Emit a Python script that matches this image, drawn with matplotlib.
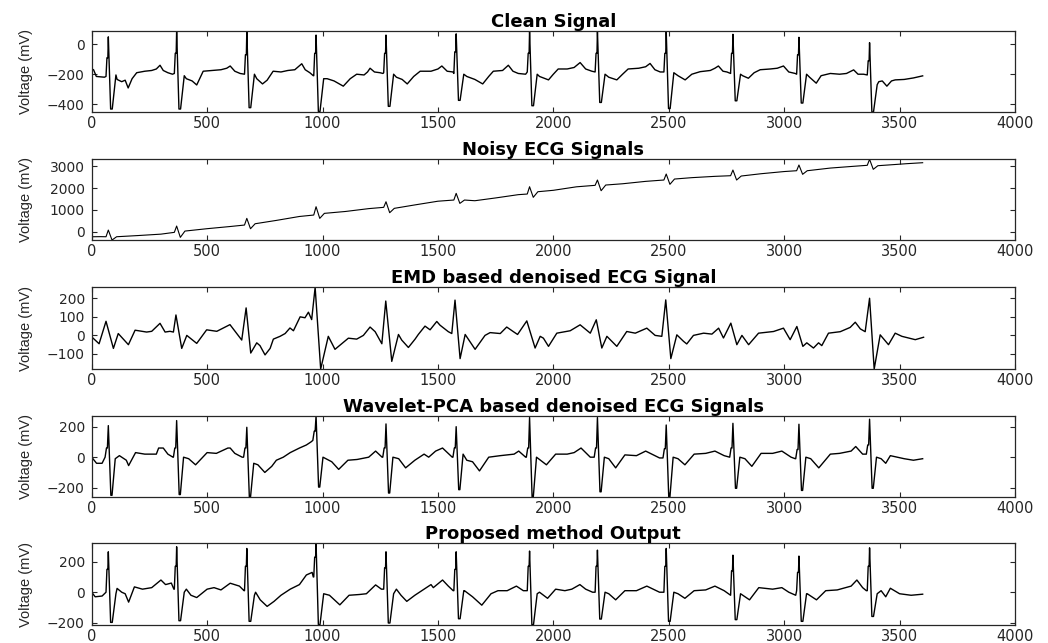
import numpy as np
import matplotlib
matplotlib.use("Agg")
import matplotlib.pyplot as plt

# R-peak sample positions
r_pos = [72, 368, 672, 972, 1275, 1579, 1897, 2191, 2489, 2778, 3064, 3370]

# ---- Clean signal (mV) ----
clean_pre = [-215, -195, -200, -210, -190, -195, -185, -185, -185, -195, -200, -205]
clean_sh = [-90, -60, -70, -60, -60, -50, -60, -60, -60, -60, -70, -110]
clean_peak = [50, 91, 88, 62, 62, 70, 90, 89, 86, 67, 47, 11]
clean_s = [-433, -433, -424, -450, -415, -375, -411, -389, -430, -378, -393, -453]
clean_rec = [-205, -210, -200, -230, -200, -200, -200, -200, -190, -200, -200, -270]
clean_bx = [0, 8, 20, 55,
            110, 130, 145, 158, 175, 195, 230, 260, 280, 296, 310, 330, 350,
            410, 435, 455, 483, 520, 560, 585, 600, 620, 643, 660,
            715, 740, 760, 786, 820, 850, 880, 895, 910, 925, 945, 960,
            1020, 1050, 1090, 1120, 1148, 1180, 1195, 1206, 1225, 1249, 1262,
            1320, 1345, 1367, 1395, 1423, 1470, 1500, 1517, 1540, 1565,
            1625, 1660, 1694, 1720, 1740, 1780, 1805, 1825, 1848, 1880,
            1940, 1979, 2000, 2021, 2060, 2090, 2116, 2140, 2167, 2180,
            2240, 2275, 2300, 2324, 2370, 2400, 2419, 2440, 2463, 2478,
            2540, 2571, 2600, 2636, 2680, 2700, 2715, 2735, 2752, 2768,
            2820, 2845, 2870, 2896, 2940, 2970, 2997, 3020, 3048,
            3110, 3139, 3160, 3200, 3240, 3270, 3301, 3320, 3344, 3358,
            3410, 3425, 3445, 3465, 3481, 3520, 3560, 3600]
clean_by = [-165, -170, -215, -220,
            -235, -250, -240, -292, -230, -190, -180, -175, -165, -140, -175, -190, -200,
            -230, -245, -272, -180, -175, -170, -160, -145, -180, -195, -200,
            -230, -265, -240, -180, -185, -175, -170, -150, -130, -170, -190, -210,
            -230, -245, -280, -230, -200, -205, -185, -160, -185, -190, -195,
            -220, -235, -265, -215, -180, -180, -165, -145, -180, -185,
            -215, -235, -265, -215, -180, -175, -140, -180, -195, -200,
            -215, -238, -200, -165, -165, -155, -122, -165, -180, -185,
            -220, -238, -200, -165, -160, -150, -128, -170, -185, -185,
            -210, -238, -200, -183, -175, -160, -145, -180, -185, -185,
            -210, -227, -190, -170, -165, -160, -145, -185, -195,
            -220, -260, -210, -195, -200, -195, -171, -200, -200, -205,
            -250, -245, -280, -245, -238, -235, -225, -211]

# ---- Noisy ECG (mV) ----
noisy_pre = [-230, -28, 307, 766, 1119, 1454, 1729, 2128, 2372, 2569, 2798, 3046]
noisy_peak = [78, 261, 613, 1147, 1376, 1761, 2064, 2372, 2647, 2830, 3060, 3321]
noisy_s = [-381, -257, 138, 613, 873, 1300, 1578, 1881, 2174, 2372, 2633, 2862]
noisy_post = [-229, 31, 367, 843, 1073, 1454, 1835, 2142, 2417, 2555, 2798, 3028]
noisy_bx = [0, 40, 200, 300, 500, 600, 800, 900, 1100, 1200, 1400, 1500, 1660,
            1750, 1848, 2000, 2100, 2300, 2400, 2600, 2700, 2900, 3000, 3200,
            3300, 3450, 3530, 3600]
noisy_by = [-230, -225, -175, -110, 140, 240, 520, 700, 930, 1060, 1230, 1400, 1422,
            1550, 1700, 1900, 2060, 2200, 2310, 2480, 2540, 2660, 2760, 2920,
            3000, 3060, 3120, 3165]

# ---- EMD based denoised (mV) ----
emd_x = [0, 32, 62, 94, 115, 137, 159, 188, 238, 260, 296, 318, 339, 354, 365, 390,
         412, 455, 498, 542, 599, 650, 669, 689, 715, 729, 751, 773, 787, 816, 838,
         859, 874, 903, 924, 939, 953, 968, 992, 1025, 1054, 1112, 1148, 1177, 1206,
         1228, 1257, 1274, 1300, 1329, 1343, 1372, 1401, 1415, 1444, 1466, 1495, 1509,
         1545, 1560, 1574, 1596, 1618, 1661, 1704, 1726, 1770, 1798, 1827, 1845, 1885,
         1921, 1943, 1957, 1979, 2015, 2073, 2116, 2160, 2186, 2210, 2232, 2275, 2318,
         2355, 2405, 2441, 2470, 2487, 2509, 2535, 2564, 2578, 2607, 2651, 2687, 2716,
         2737, 2769, 2795, 2817, 2846, 2889, 2954, 2997, 3026, 3055, 3081, 3098, 3127,
         3149, 3163, 3192, 3243, 3286, 3308, 3330, 3351, 3370, 3390, 3416, 3452, 3481,
         3510, 3568, 3604]
emd_y = [-8, -45, 76, -70, 10, -20, -50, 28, 18, 22, 65, 18, 22, 18, 110, -70,
         0, -43, 30, 22, 58, -25, 148, -95, -40, -55, -105, -70, -20, -5, 10,
         40, 25, 100, 95, 125, 85, 259, -181, -5, -75, -15, -20, 0, 45,
         20, -45, 185, -140, 5, -25, -65, -20, 5, 50, 30, 75, 55,
         20, 10, 190, -125, 5, -75, 0, 15, 10, 45, 20, 5, 78,
         -68, -5, -15, -59, 12, 25, 57, 12, 84, -68, -5, -59, 21,
         12, 39, 0, -5, 191, -125, 3, -32, -46, 0, 12, 7, 39,
         -14, 66, -50, 0, -50, 12, 21, 39, -23, 48, -59, -40, -68,
         -40, -55, 12, 20, 43, 71, 35, 20, 200, -181, 3, -50, 12,
         -5, -23, -10]

# ---- Wavelet-PCA denoised (mV) ----
wav_pre = [0, 0, 0, 110, 0, 0, 0, 0, -5, 0, -10, 20]
wav_sh = [60, 60, 60, 170, 60, 60, 60, 60, 55, 60, 50, 80]
wav_peak = [207, 240, 196, 272, 218, 200, 260, 260, 211, 222, 216, 249]
wav_s = [-250, -245, -263, -196, -235, -213, -263, -227, -262, -204, -218, -204]
wav_rec = [-10, 0, -40, 0, 0, 20, 0, 0, 0, 0, 0, 0]
wav_bx = [0, 21, 45,
          120, 150, 160, 190, 230, 280, 290, 310, 330, 352,
          420, 450, 500, 540, 590, 600, 620, 652,
          720, 750, 780, 800, 830, 860, 900, 930, 950, 958,
          1040, 1070, 1110, 1150, 1200, 1230, 1258,
          1330, 1360, 1400, 1440, 1460, 1490, 1520, 1562,
          1625, 1650, 1680, 1720, 1770, 1830, 1850, 1880,
          1970, 2010, 2060, 2090, 2120, 2160,
          2240, 2270, 2310, 2360, 2400, 2460,
          2540, 2570, 2610, 2660, 2700, 2740,
          2830, 2860, 2900, 2950, 2990, 3030, 3048,
          3115, 3150, 3200, 3240, 3290, 3310, 3340, 3354,
          3420, 3440, 3460, 3490, 3520, 3560, 3600]
wav_by = [0, -40, -40,
          10, -20, -55, 30, 20, 20, 60, 60, 20, 0,
          -10, -50, 30, 25, 60, 60, 25, 0,
          -50, -100, -60, -20, 0, 30, 60, 80, 100, 110,
          -30, -80, -20, -15, 0, 40, 0,
          -10, -70, -20, 20, 0, 40, 60, 0,
          -20, -30, -90, 0, 10, 20, 40, 0,
          -50, 20, 20, 30, 60, 0,
          -10, -70, 15, 10, 40, -5,
          -10, -50, 20, 25, 40, 10,
          -10, -60, 25, 25, 40, 0, -10,
          -10, -70, 20, 25, 40, 70, 20, 20,
          -10, -40, 10, 0, -10, -20, -10]

# ---- Proposed method (mV) ----
prop_pre = [0, 20, 10, 100, 20, 10, 10, 0, 0, -20, 10, 10]
prop_sh = [150, 170, 170, 230, 160, 150, 170, 170, 170, 140, 130, 170]
prop_peak = [265, 298, 287, 321, 265, 265, 270, 276, 287, 243, 237, 291]
prop_s = [-198, -187, -191, -213, -202, -174, -213, -176, -191, -180, -191, -159]
prop_rec = [-10, 0, -20, -10, -10, 10, -10, 0, 0, -10, -10, -10]
prop_bx = [0, 15, 45,
           110, 130, 145, 160, 185, 220, 260, 300, 320, 345, 356,
           410, 430, 455, 500, 530, 560, 600, 640, 660,
           710, 730, 760, 790, 820, 860, 900, 930, 955, 960,
           1030, 1075, 1115, 1160, 1190, 1230, 1255,
           1320, 1340, 1365, 1400, 1440, 1470, 1480, 1520, 1545, 1566,
           1615, 1650, 1690, 1730, 1760, 1800, 1840, 1870,
           1940, 1975, 2010, 2050, 2080, 2115, 2140, 2170,
           2240, 2270, 2310, 2360, 2405, 2460,
           2540, 2570, 2610, 2660, 2700, 2740,
           2850, 2890, 2950, 2990, 3020, 3050,
           3100, 3140, 3180, 3230, 3290, 3315, 3340, 3356,
           3420, 3440, 3460, 3500, 3550, 3600]
prop_by = [0, -30, -25,
           25, 0, -10, -65, 35, 20, 30, 80, 50, 60, 20,
           20, -20, -35, 20, 30, 15, 59, 40, 10,
           0, -50, -93, -60, -20, 20, 50, 113, 130, 100,
           -20, -83, -20, -15, -10, 48, 20,
           20, -20, -60, -20, 20, 50, 30, 80, 40, 10,
           10, -30, -85, -10, 10, 10, 40, 10,
           0, -40, 20, 10, 20, 50, 20, 0,
           -10, -50, 10, 10, 40, 0,
           -10, -40, 10, 15, 40, 10,
           -50, 30, 20, 30, 0, -20,
           -10, -50, 10, 15, 40, 80, 30, 10,
           10, -30, 26, -10, -20, -13]

titles = ["Clean Signal", "Noisy ECG Signals", "EMD based denoised ECG Signal",
          "Wavelet-PCA based denoised ECG Signals", "Proposed method Output"]
ylims = [(-453, 91), (-380, 3320), (-181, 259), (-263, 272), (-215, 321)]
yticks = [[-400, -200, 0], [0, 1000, 2000, 3000], [-100, 0, 100, 200],
          [-200, 0, 200], [-200, 0, 200]]


def beat_trace(offsets, cols, bx, by):
    rp = np.array(r_pos)[:, None]
    xs = (rp + np.array(offsets)[None, :]).ravel()
    ys = np.column_stack(cols).ravel()
    xs = np.concatenate([xs, bx])
    ys = np.concatenate([ys, by])
    order = np.argsort(xs, kind="stable")
    return xs[order], ys[order]


# sample offsets of the QRS knots around each R peak
qrs_off = [-10, -6, -2, 0, 10, 17, 33]
wav_off = [-14, -8, -4, 0, 11, 16, 30]
traces = [
    beat_trace(qrs_off, [clean_pre, clean_sh, clean_sh, clean_peak, clean_s, clean_s,
                         clean_rec], clean_bx, clean_by),
    beat_trace([-10, 0, 16, 36], [noisy_pre, noisy_peak, noisy_s, noisy_post],
               noisy_bx, noisy_by),
    (np.array(emd_x), np.array(emd_y)),
    beat_trace(wav_off, [wav_pre, wav_sh, wav_sh, wav_peak, wav_s, wav_s, wav_rec],
               wav_bx, wav_by),
    beat_trace(qrs_off, [prop_pre, prop_sh, prop_sh, prop_peak, prop_s, prop_s,
                         prop_rec], prop_bx, prop_by),
]

fig = plt.figure(figsize=(10.48, 6.43), dpi=100)
left, width = 0.0875, 0.881
boxes = [(0.8258, 0.1264), (0.6267, 0.1255), (0.4261, 0.1271),
         (0.2266, 0.1269), (0.0280, 0.1271)]
dark = "#262626"

for i, (bottom, h) in enumerate(boxes):
    ax = fig.add_axes([left, bottom, width, h])
    x, y = traces[i]
    ax.plot(x, y, color="black", lw=0.8 if i == 1 else 1.0)
    ax.set_xlim(0, 4000)
    ax.set_ylim(*ylims[i])
    ax.set_xticks(np.arange(0, 4001, 500))
    ax.set_yticks(yticks[i])
    ax.tick_params(direction="in", top=True, right=True, length=3.8, width=0.8,
                   colors=dark, labelsize=10, pad=5)
    ax.tick_params(axis="x", labelsize=10.5, pad=3)
    for sp in ax.spines.values():
        sp.set_color(dark)
        sp.set_linewidth(0.9)
    ax.set_title(titles[i], fontsize=13, fontweight="bold", pad=3,
                 family="DejaVu Sans")
    ax.set_ylabel("Voltage (mV)", fontsize=10.5, family="Liberation Sans", color=dark)
    ax.yaxis.set_label_coords(-0.064, 0.5)

fig.savefig("out.png", dpi=100)
